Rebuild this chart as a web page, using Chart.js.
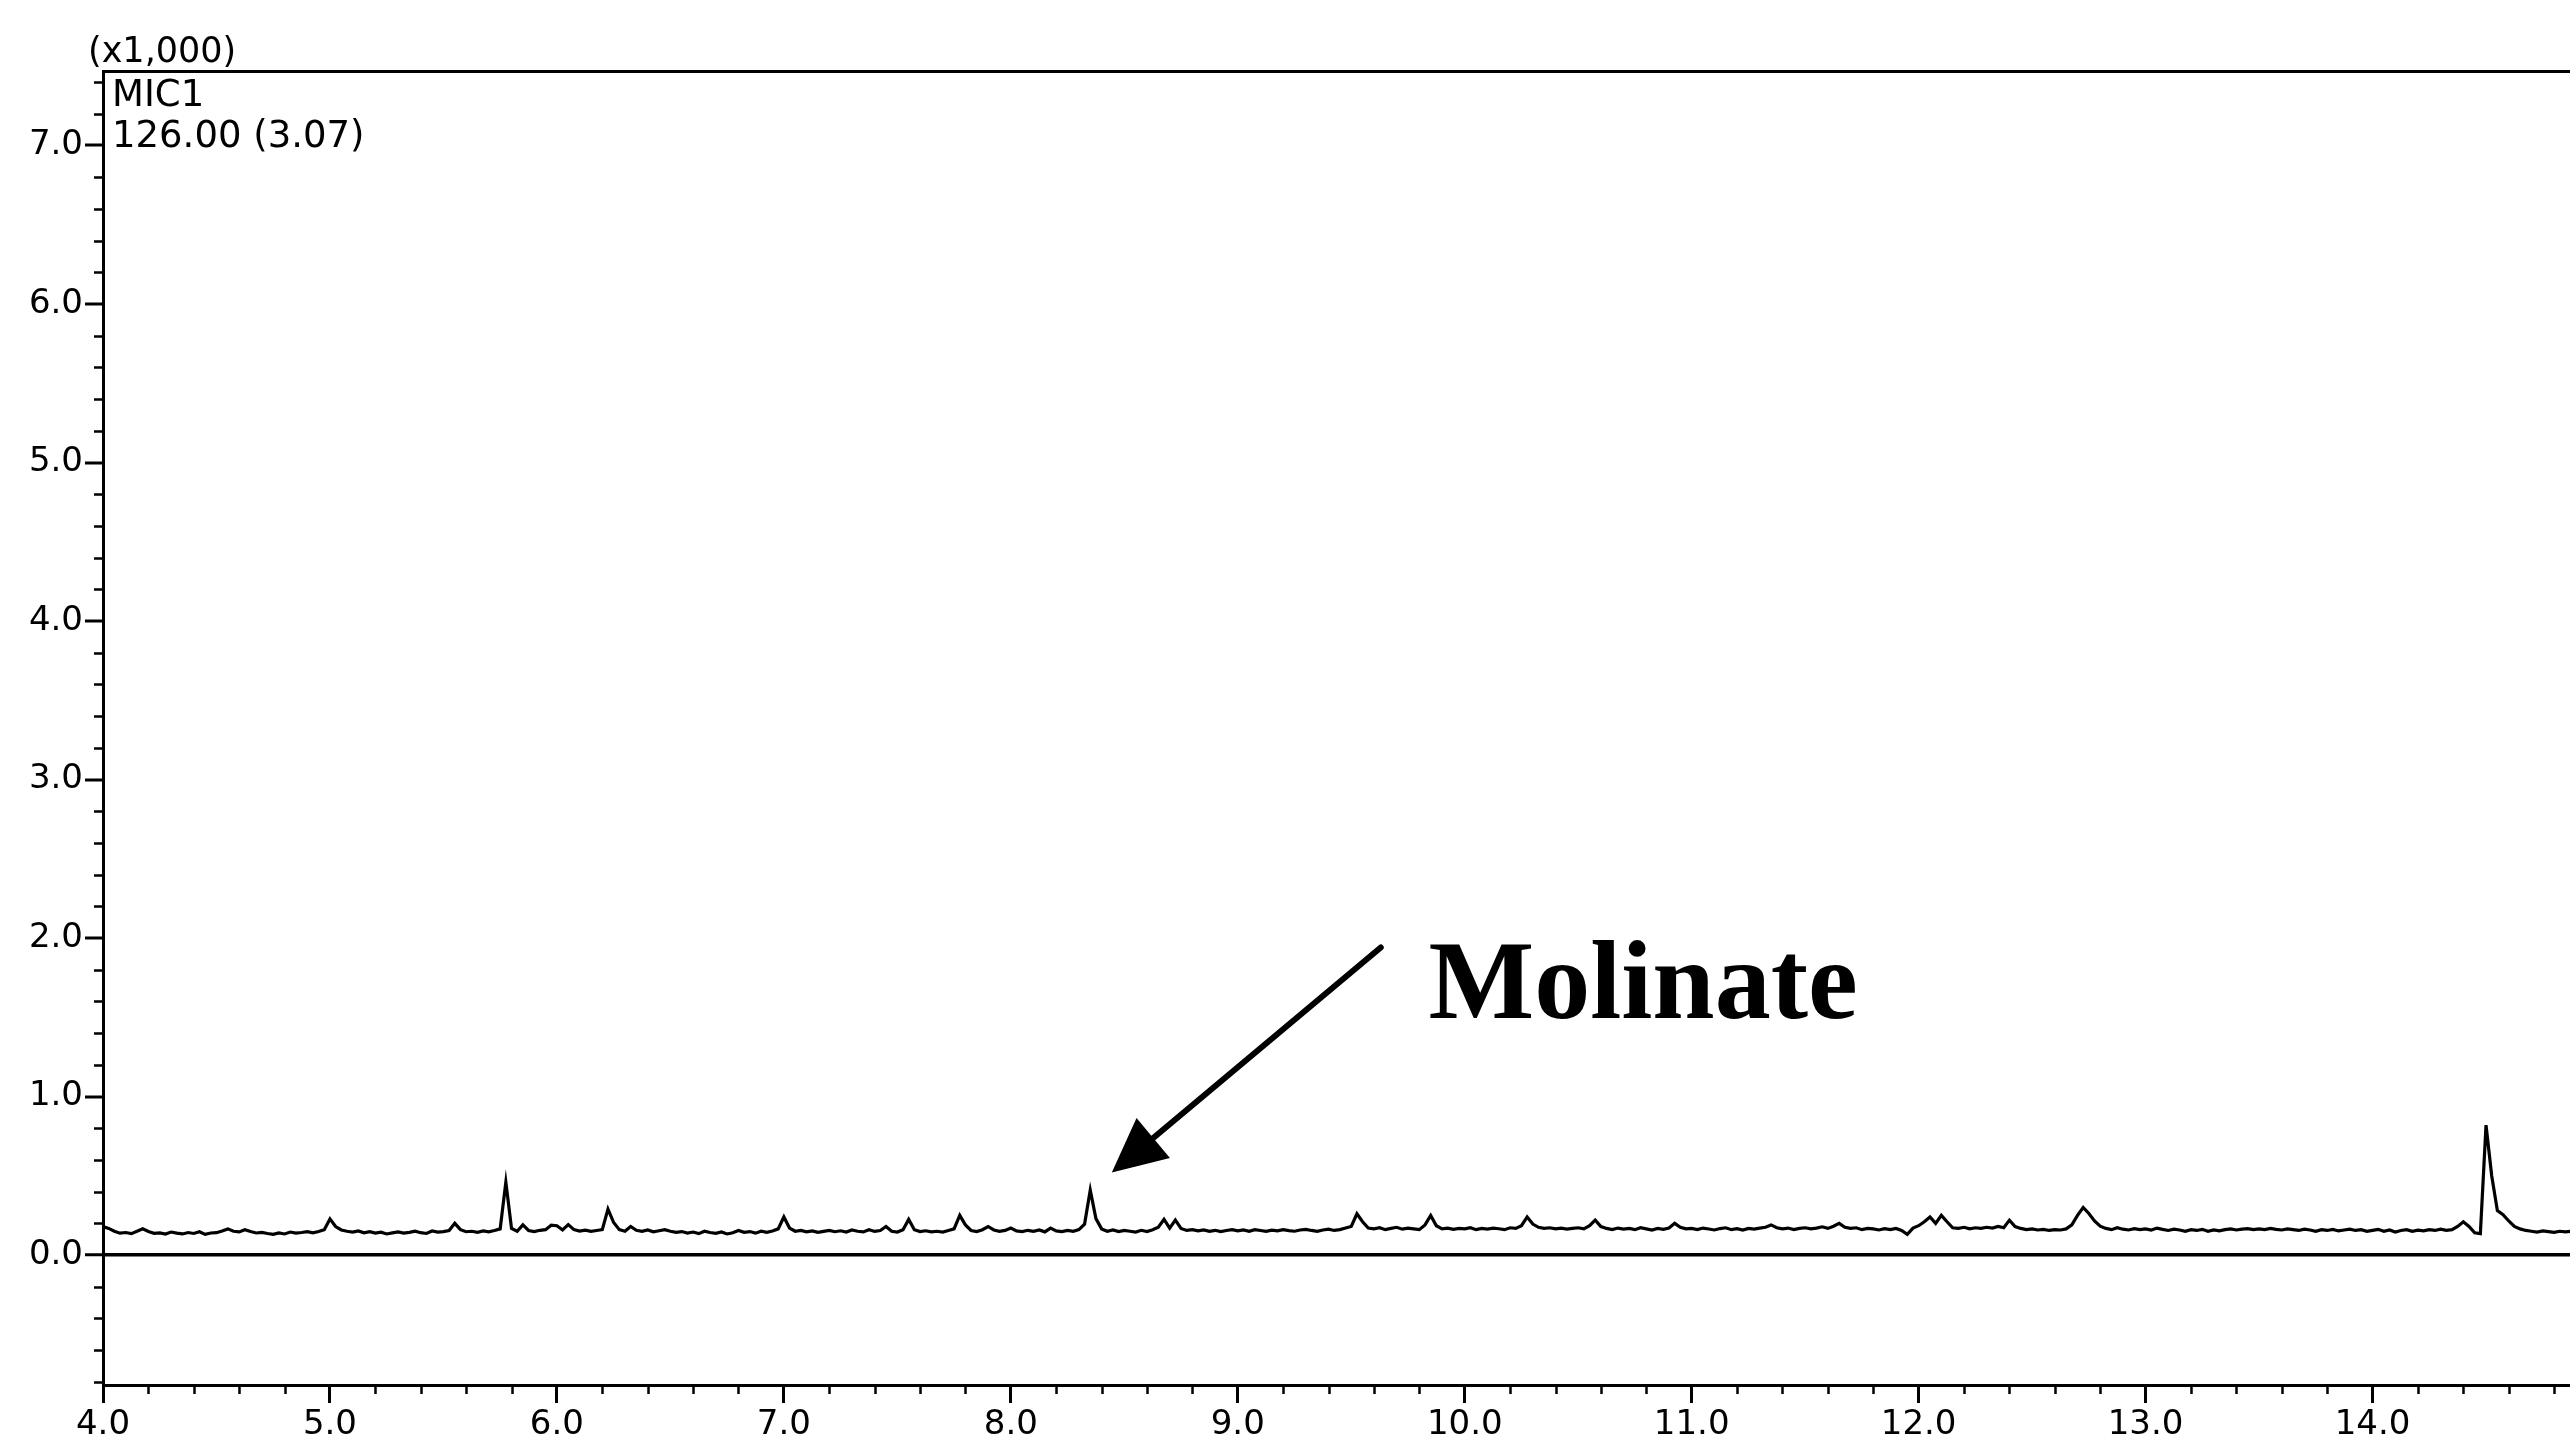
<!DOCTYPE html>
<html>
<head>
<meta charset="utf-8">
<title>MIC1 126.00 chromatogram</title>
<script src="https://cdn.jsdelivr.net/npm/chart.js@4"></script>
<style>
  html, body { margin: 0; padding: 0; background: #fff; }
  #wrap { width: 2570px; height: 1445px; }
</style>
</head>
<body>
<div id="wrap"><canvas id="graph"></canvas></div>
<script>
// retention time axis (min) and intensity (x1,000)
const t0 = 4.0;
const dt = 0.025;
const xMajor = [4, 5, 6, 7, 8, 9, 10, 11, 12, 13, 14];
const yMajor = [0, 1, 2, 3, 4, 5, 6, 7];

// one row per half minute, 20 samples each
const intensity = [
  0.180, 0.168, 0.150, 0.138, 0.142, 0.135, 0.150, 0.165, 0.148, 0.137, 0.140, 0.132, 0.145, 0.138, 0.133, 0.142, 0.136, 0.147, 0.130, 0.139,
  0.141, 0.152, 0.165, 0.150, 0.146, 0.160, 0.148, 0.139, 0.143, 0.136, 0.131, 0.140, 0.133, 0.145, 0.138, 0.142, 0.147, 0.140, 0.148, 0.160,
  0.228, 0.180, 0.158, 0.150, 0.145, 0.152, 0.140, 0.147, 0.138, 0.144, 0.133, 0.140, 0.146, 0.138, 0.143, 0.150, 0.141, 0.136, 0.152, 0.145,
  0.148, 0.155, 0.200, 0.160, 0.147, 0.150, 0.143, 0.152, 0.146, 0.155, 0.165, 0.460, 0.168, 0.150, 0.190, 0.155, 0.148, 0.156, 0.160, 0.188,
  0.185, 0.158, 0.192, 0.160, 0.151, 0.157, 0.149, 0.155, 0.160, 0.290, 0.205, 0.160, 0.150, 0.180, 0.156, 0.150, 0.158, 0.146, 0.153, 0.160,
  0.150, 0.143, 0.148, 0.139, 0.145, 0.135, 0.150, 0.142, 0.137, 0.146, 0.133, 0.140, 0.155, 0.143, 0.148, 0.138, 0.150, 0.143, 0.152, 0.165,
  0.240, 0.170, 0.150, 0.155, 0.146, 0.152, 0.143, 0.149, 0.155, 0.147, 0.153, 0.145, 0.158, 0.150, 0.146, 0.160, 0.149, 0.155, 0.180, 0.150,
  0.145, 0.160, 0.225, 0.160, 0.148, 0.153, 0.146, 0.150, 0.145, 0.155, 0.165, 0.250, 0.190, 0.155, 0.148, 0.160, 0.180, 0.158, 0.150, 0.155,
  0.170, 0.152, 0.148, 0.156, 0.150, 0.158, 0.146, 0.170, 0.152, 0.148, 0.155, 0.150, 0.160, 0.195, 0.410, 0.230, 0.165, 0.150, 0.158, 0.148,
  0.155, 0.150, 0.145, 0.156, 0.148, 0.160, 0.175, 0.225, 0.170, 0.220, 0.168, 0.155, 0.160, 0.152, 0.158, 0.150, 0.156, 0.148, 0.155, 0.160,
  0.152, 0.158, 0.150, 0.160, 0.155, 0.149, 0.157, 0.152, 0.160, 0.154, 0.150, 0.158, 0.162, 0.155, 0.150, 0.158, 0.163, 0.155, 0.160, 0.170,
  0.180, 0.260, 0.210, 0.170, 0.165, 0.172, 0.160, 0.168, 0.175, 0.163, 0.170, 0.165, 0.160, 0.190, 0.250, 0.185, 0.165, 0.170, 0.162, 0.168,
  0.165, 0.172, 0.160, 0.168, 0.163, 0.170, 0.166, 0.160, 0.172, 0.168, 0.185, 0.240, 0.195, 0.175, 0.168, 0.172, 0.165, 0.170, 0.163, 0.168,
  0.172, 0.165, 0.185, 0.220, 0.180, 0.168, 0.160, 0.170, 0.163, 0.168, 0.160, 0.172, 0.165, 0.158, 0.168, 0.162, 0.170, 0.200, 0.175, 0.165,
  0.168, 0.160, 0.170, 0.164, 0.158, 0.167, 0.172, 0.160, 0.166, 0.158, 0.168, 0.163, 0.170, 0.175, 0.190, 0.172, 0.165, 0.170, 0.160, 0.168,
  0.172, 0.165, 0.170, 0.178, 0.168, 0.182, 0.200, 0.175, 0.168, 0.172, 0.160, 0.168, 0.165, 0.158, 0.166, 0.160, 0.168, 0.155, 0.130, 0.170,
  0.185, 0.210, 0.240, 0.200, 0.250, 0.210, 0.172, 0.168, 0.175, 0.165, 0.172, 0.168, 0.175, 0.170, 0.180, 0.172, 0.220, 0.180, 0.168, 0.160,
  0.165, 0.158, 0.162, 0.155, 0.160, 0.158, 0.165, 0.190, 0.250, 0.300, 0.262, 0.215, 0.182, 0.168, 0.160, 0.172, 0.163, 0.158, 0.166, 0.160,
  0.165, 0.158, 0.170, 0.162, 0.155, 0.163, 0.158, 0.150, 0.160, 0.155, 0.162, 0.150, 0.158, 0.153, 0.160, 0.165, 0.158, 0.163, 0.167, 0.160,
  0.165, 0.160, 0.168, 0.162, 0.158, 0.165, 0.160, 0.155, 0.163, 0.158, 0.150, 0.160, 0.155, 0.162, 0.152, 0.158, 0.163, 0.155, 0.160, 0.150,
  0.156, 0.162, 0.150, 0.158, 0.145, 0.155, 0.160, 0.150, 0.157, 0.152, 0.160, 0.155, 0.163, 0.156, 0.160, 0.180, 0.210, 0.180, 0.140, 0.135,
  0.820, 0.500, 0.280, 0.255, 0.215, 0.180, 0.165, 0.155, 0.150, 0.145, 0.152, 0.148, 0.143, 0.150, 0.146, 0.150
];

// arrow to the molinate peak, in data units
const arrowFrom = [9.63, 1.94];
const arrowTo = [8.445, 0.52];
const peakLabel = 'Molinate';
const peakLabelAt = [9.84, 1.495];

const points = intensity.map((v, i) => ({ x: t0 + i * dt, y: v }));

Chart.defaults.font.family = '"DejaVu Sans", sans-serif';
Chart.defaults.color = '#000';

const overlay = {
  id: 'overlay',
  afterDraw(chart) {
    const { ctx, chartArea, scales: { x, y } } = chart;
    ctx.save();
    ctx.strokeStyle = '#000';
    ctx.fillStyle = '#000';

    // minor ticks every 0.2
    ctx.lineWidth = 2.5;
    ctx.beginPath();
    for (let k = Math.ceil(x.min * 5); k <= Math.floor(x.max * 5); k++) {
      if (k % 5 === 0) continue;
      const px = Math.round(x.getPixelForValue(k / 5)) + 0.5;
      ctx.moveTo(px, chartArea.bottom);
      ctx.lineTo(px, chartArea.bottom + 9);
    }
    for (let k = Math.ceil(y.min * 5); k <= Math.floor(y.max * 5); k++) {
      if (k % 5 === 0) continue;
      const py = Math.round(y.getPixelForValue(k / 5)) + 0.5;
      ctx.moveTo(chartArea.left, py);
      ctx.lineTo(chartArea.left - 9, py);
    }
    ctx.stroke();

    // header texts
    ctx.textBaseline = 'alphabetic';
    ctx.textAlign = 'left';
    ctx.font = '35px "DejaVu Sans"';
    ctx.fillText('(x1,000)', chartArea.left - 15, chartArea.top - 9);
    ctx.font = '37px "DejaVu Sans"';
    ctx.fillText('MIC1', chartArea.left + 9, chartArea.top + 35);
    ctx.fillText('126.00 (3.07)', chartArea.left + 9, chartArea.top + 76);

    // annotation arrow
    const x1 = x.getPixelForValue(arrowFrom[0]), y1 = y.getPixelForValue(arrowFrom[1]);
    const x2 = x.getPixelForValue(arrowTo[0]), y2 = y.getPixelForValue(arrowTo[1]);
    const ang = Math.atan2(y2 - y1, x2 - x1);
    const headLen = 54, headHalf = 26;
    const bx = x2 - headLen * Math.cos(ang), by = y2 - headLen * Math.sin(ang);
    ctx.lineWidth = 6;
    ctx.lineCap = 'round';
    ctx.beginPath();
    ctx.moveTo(x1, y1);
    ctx.lineTo(bx, by);
    ctx.stroke();
    ctx.beginPath();
    ctx.moveTo(x2, y2);
    ctx.lineTo(bx + headHalf * Math.sin(ang), by - headHalf * Math.cos(ang));
    ctx.lineTo(bx - headHalf * Math.sin(ang), by + headHalf * Math.cos(ang));
    ctx.closePath();
    ctx.fill();

    ctx.font = 'bold 112px "Liberation Serif"';
    ctx.fillText(peakLabel, x.getPixelForValue(peakLabelAt[0]), y.getPixelForValue(peakLabelAt[1]));
    ctx.restore();
  }
};

new Chart(document.getElementById('graph'), {
  type: 'line',
  data: {
    datasets: [{
      data: points,
      borderColor: '#000',
      borderWidth: 3.2,
      pointRadius: 0,
      tension: 0,
      fill: false
    }]
  },
  options: {
    responsive: true,
    maintainAspectRatio: false,
    animation: false,
    events: [],
    layout: { padding: { top: 71, right: 0, bottom: 0, left: 0 } },
    plugins: { legend: { display: false }, tooltip: { enabled: false } },
    scales: {
      x: {
        type: 'linear',
        min: 4.0,
        max: 14.87,
        afterBuildTicks: axis => { axis.ticks = xMajor.map(v => ({ value: v })); },
        afterFit: axis => { axis.height = 60; },
        ticks: {
          callback: v => v.toFixed(1),
          font: { size: 34 },
          padding: 2,
          maxRotation: 0,
          autoSkip: false
        },
        grid: { drawOnChartArea: false, tickLength: 18, tickWidth: 3, tickColor: '#000' },
        border: { display: true, color: '#000', width: 3 }
      },
      xTop: {
        type: 'linear',
        position: 'top',
        min: 4.0,
        max: 14.87,
        afterFit: axis => { axis.height = 0; },
        ticks: { display: false },
        grid: { display: false },
        border: { display: true, color: '#000', width: 3 }
      },
      y: {
        type: 'linear',
        min: -0.82,
        max: 7.47,
        afterBuildTicks: axis => { axis.ticks = yMajor.map(v => ({ value: v })); },
        afterFit: axis => { axis.width = 103; },
        ticks: {
          callback: v => v.toFixed(1),
          font: { size: 34 },
          padding: 2
        },
        grid: {
          drawOnChartArea: true,
          color: c => (c.tick && c.tick.value === 0 ? '#000' : 'rgba(0,0,0,0)'),
          lineWidth: c => (c.tick && c.tick.value === 0 ? 3.5 : 0),
          tickLength: 18,
          tickWidth: 3,
          tickColor: '#000'
        },
        border: { display: true, color: '#000', width: 3 }
      }
    }
  },
  plugins: [overlay]
});
</script>
</body>
</html>
